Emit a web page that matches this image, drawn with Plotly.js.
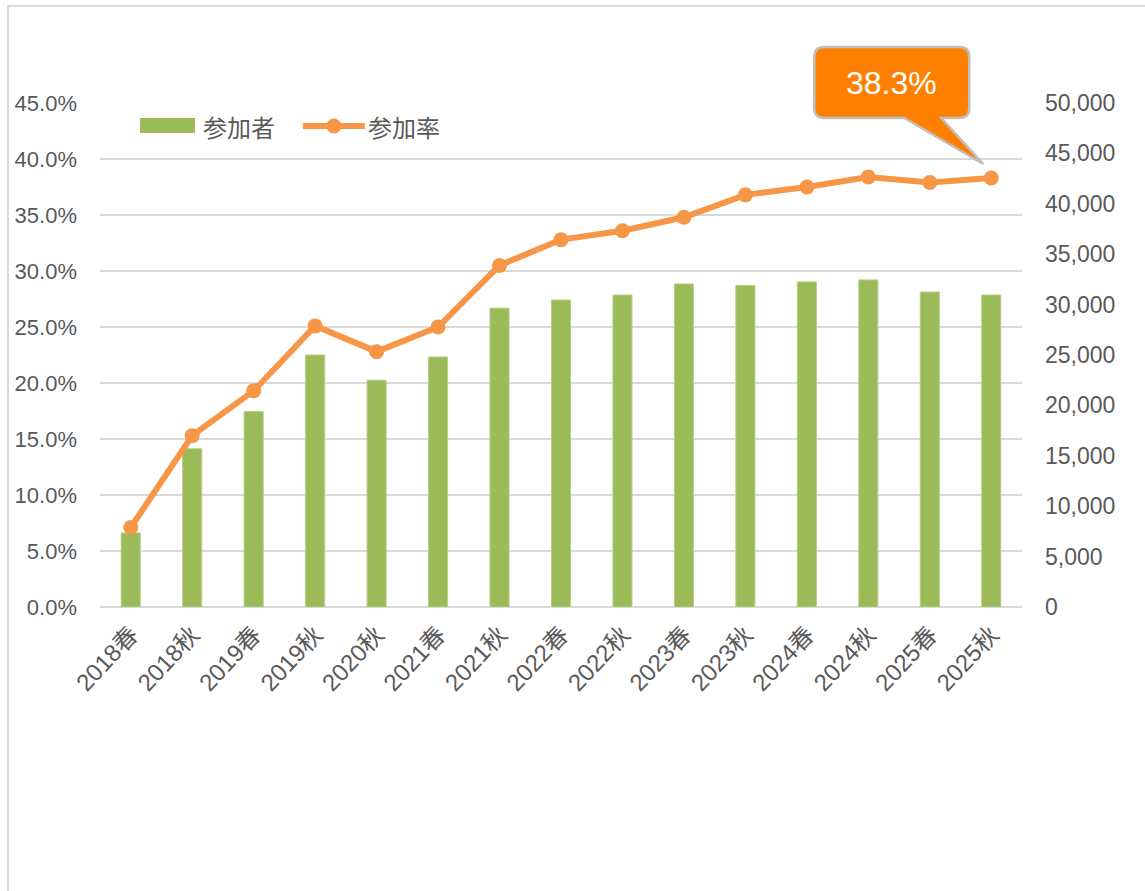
<!DOCTYPE html>
<html>
<head>
<meta charset="utf-8">
<script src="https://cdn.plot.ly/plotly-3.0.1.min.js"></script>
<style>
  html, body { margin: 0; padding: 0; background: #fff; }
  #wrap { position: relative; width: 1145px; height: 891px; overflow: hidden; }
  #frame { position: absolute; left: 7px; top: 5px; width: 1150px; height: 900px;
           border-left: 2px solid #D9D9D9; border-top: 2px solid #D9D9D9; pointer-events: none; }
  #chart { position: absolute; left: 0; top: 0; width: 1145px; height: 891px; }
</style>
</head>
<body>
<div id="wrap">
  <div id="chart"></div>
  <div id="frame"></div>
</div>
<script>
// ---- data ----
const categories = ['2018春','2018秋','2019春','2019秋','2020秋','2021春','2021秋','2022春','2022秋','2023春','2023秋','2024春','2024秋','2025春','2025秋'];
const participants = [7350, 15700, 19400, 25000, 22500, 24800, 29650, 30450, 30950, 32050, 31900, 32250, 32450, 31250, 30950];
const rate = [7.1, 15.3, 19.3, 25.1, 22.8, 25.0, 30.5, 32.8, 33.6, 34.8, 36.8, 37.5, 38.4, 37.9, 38.3];
const seriesNames = ['参加者', '参加率'];
const leftTicks = [0, 5, 10, 15, 20, 25, 30, 35, 40, 45];
const rightTicks = [0, 5000, 10000, 15000, 20000, 25000, 30000, 35000, 40000, 45000, 50000];

const FONT = 'Liberation Sans, Arial, Noto Sans CJK JP, sans-serif';
const JFONT = 'Noto Sans CJK JP, sans-serif';
const GRAY = '#595959';
const BAR = '#9BBB59';
const LINE = '#F79646';
const lastIdx = categories.length - 1;

// plot-area geometry (pixels) for converting legend/callout decoration positions
const W = 1145, H = 891;
const M = { l: 100, r: 122.5, t: 103, b: 284.3 };
const PW = W - M.l - M.r, PH = H - M.t - M.b;
const px = v => (v - M.l) / PW;
const py = v => (H - M.b - v) / PH;
const LEFT_MAX = leftTicks[leftTicks.length - 1];
const RIGHT_MAX = rightTicks[rightTicks.length - 1];

const traces = [
  {
    type: 'bar', name: seriesNames[0], x: categories, y: participants,
    yaxis: 'y', width: 0.31, showlegend: false,
    marker: { color: BAR, line: { color: '#B5CE85', width: 1 } },
    hoverinfo: 'x+y'
  },
  {
    type: 'scatter', mode: 'lines+markers', name: seriesNames[1], x: categories, y: rate,
    yaxis: 'y2', showlegend: false, cliponaxis: false,
    line: { color: LINE, width: 6 },
    marker: { color: LINE, size: 15 },
    hoverinfo: 'x+y'
  }
];

// last point position in paper coords (for the callout)
const lastX = (lastIdx + 0.5) / categories.length;
const lastY = rate[lastIdx] / LEFT_MAX;

const layout = {
  width: W, height: H,
  margin: M,
  paper_bgcolor: 'rgba(0,0,0,0)', plot_bgcolor: 'rgba(0,0,0,0)',
  font: { family: FONT, color: GRAY, size: 22 },
  showlegend: false,
  xaxis: {
    type: 'category', range: [-0.5, lastIdx + 0.5], autorange: false,
    tickangle: -47, showgrid: false, zeroline: false, ticklabelstandoff: 8,
    showline: false, ticks: '', tickfont: { size: 24, color: GRAY, family: FONT },
    fixedrange: true
  },
  yaxis: {
    side: 'right', range: [0, RIGHT_MAX], tickvals: rightTicks,
    ticktext: rightTicks.map(v => v.toLocaleString('en-US')),
    showgrid: false, zeroline: false, showline: false, ticks: '',
    ticklabelstandoff: 22,
    tickfont: { size: 23, color: GRAY, family: FONT }, fixedrange: true
  },
  yaxis2: {
    overlaying: 'y', side: 'left', range: [0, LEFT_MAX], tickvals: leftTicks,
    ticktext: leftTicks.map(v => v.toFixed(1) + '%'),
    showgrid: true, gridcolor: '#D9D9D9', gridwidth: 2.5,
    zeroline: true, zerolinecolor: '#D9D9D9', zerolinewidth: 2.5,
    showline: false, ticks: '', ticklabelstandoff: 22,
    tickfont: { size: 22, color: GRAY, family: FONT }, fixedrange: true
  },
  shapes: [
    // callout balloon anchored at last data point
    {
      type: 'path', layer: 'above',
      xref: 'paper', yref: 'paper', xsizemode: 'pixel', ysizemode: 'pixel',
      xanchor: lastX, yanchor: lastY,
      path: 'M -167,131 L -32,131 Q -22,131 -22,121 L -22,70 Q -22,60 -32,60 L -50,60 L -8,14 L -87,60 L -167,60 Q -177,60 -177,70 L -177,121 Q -177,131 -167,131 Z',
      fillcolor: '#FF8000', line: { color: '#BFBFBF', width: 2.5 }
    },
    // legend: bar swatch
    {
      type: 'rect', layer: 'above', xref: 'paper', yref: 'paper',
      x0: px(140), x1: px(195), y0: py(133), y1: py(118),
      fillcolor: BAR, line: { width: 0 }
    },
    // legend: line swatch
    {
      type: 'line', layer: 'above', xref: 'paper', yref: 'paper',
      x0: px(303), x1: px(365), y0: py(126), y1: py(126),
      line: { color: LINE, width: 6 }
    },
    {
      type: 'circle', layer: 'above', xref: 'paper', yref: 'paper',
      xsizemode: 'pixel', ysizemode: 'pixel', xanchor: px(334), yanchor: py(126),
      x0: -7.5, x1: 7.5, y0: -7.5, y1: 7.5,
      fillcolor: LINE, line: { width: 0 }
    }
  ],
  annotations: [
    {
      xref: 'paper', yref: 'paper', x: lastX, y: lastY,
      text: rate[lastIdx].toFixed(1) + '%', showarrow: false,
      xanchor: 'center', yanchor: 'middle',
      xshift: -99.5, yshift: 95.5,
      font: { size: 32, color: '#FFFFFF', family: FONT }
    },
    {
      xref: 'paper', yref: 'paper', x: px(201), y: py(126),
      xanchor: 'left', yanchor: 'middle', showarrow: false,
      text: seriesNames[0], font: { size: 24, color: GRAY, family: JFONT }
    },
    {
      xref: 'paper', yref: 'paper', x: px(366), y: py(126),
      xanchor: 'left', yanchor: 'middle', showarrow: false,
      text: seriesNames[1], font: { size: 24, color: GRAY, family: JFONT }
    }
  ]
};

Plotly.newPlot('chart', traces, layout, { displayModeBar: false, staticPlot: true });
</script>
</body>
</html>
